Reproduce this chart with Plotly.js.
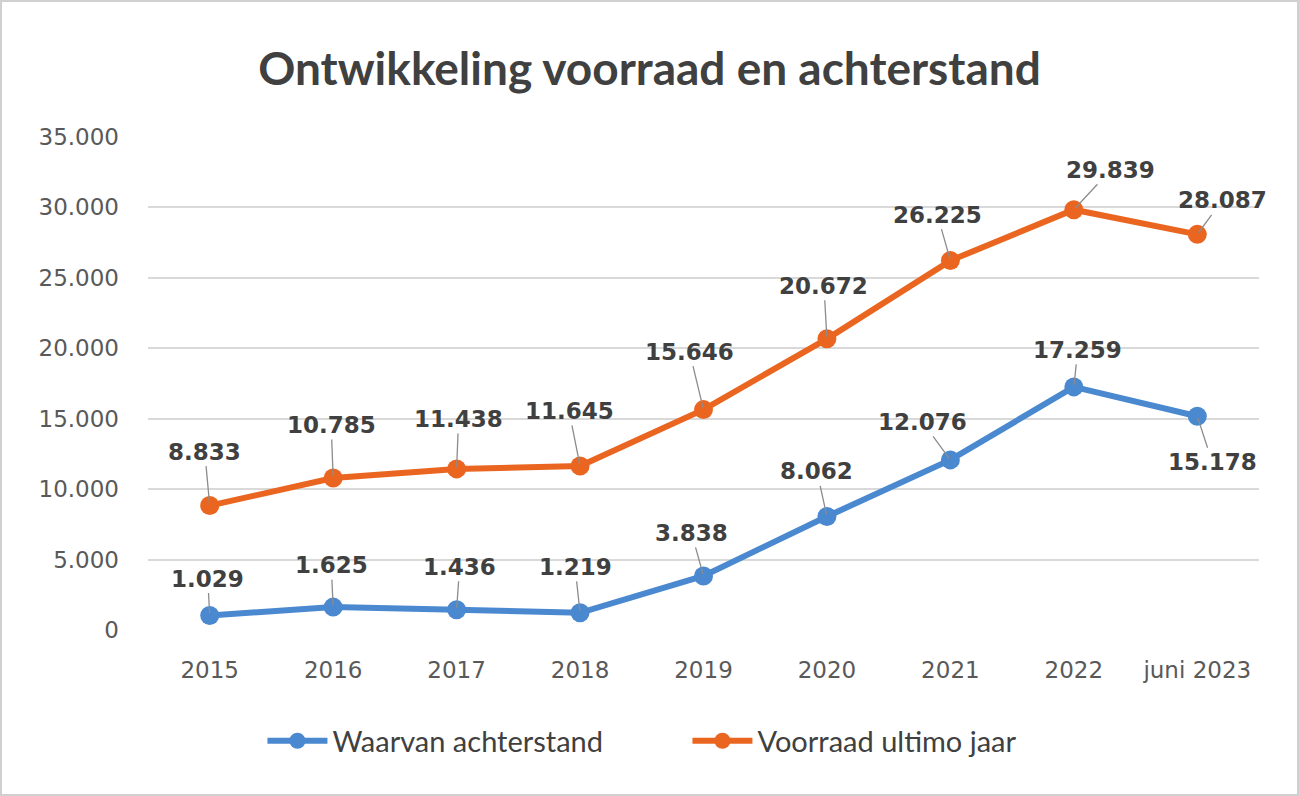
<!DOCTYPE html>
<html>
<head>
<meta charset="utf-8">
<script src="https://cdn.plot.ly/plotly-3.0.1.min.js"></script>
<style>
html,body{margin:0;padding:0;background:#fff;}
#chart{width:1299px;height:796px;box-sizing:border-box;border:2px solid #d0d0d0;}
</style>
</head>
<body>
<div id="chart"></div>
<script>
const categories = ["2015","2016","2017","2018","2019","2020","2021","2022","juni 2023"];
const achterstand = [1029,1625,1436,1219,3838,8062,12076,17259,15178];
const voorraad = [8833,10785,11438,11645,15646,20672,26225,29839,28087];
const yTicks = [0,5000,10000,15000,20000,25000,30000,35000];

// label offsets (pixels) for leader-line style data labels
const offV = [[-5,-54],[-2,-53],[2,-50],[-11,-55],[-14,-58],[-3,-53],[-13,-46],[37,-40],[25,-34]];
const offA = [[-2,-37],[-2,-42],[3,-43],[-5,-46],[-12,-43],[-10,-45],[-28,-38],[4,-37],[15,46]];

const blue = '#4A88D0';
const orange = '#EA6620';

function fmt(v){ return String(v).replace(/\B(?=(\d{3})+(?!\d))/g,'.'); }

const labelFont = {family:'DejaVu Sans', size:23, color:'#404040', weight:700};

const annotations = [];
categories.forEach((c,i)=>{
  annotations.push({x:i, y:voorraad[i], xref:'x', yref:'y', text:fmt(voorraad[i]),
    showarrow:true, arrowhead:0, arrowwidth:1.3, arrowcolor:'#8c8c8c', standoff:2,
    ax:offV[i][0], ay:offV[i][1], font:labelFont});
  annotations.push({x:i, y:achterstand[i], xref:'x', yref:'y', text:fmt(achterstand[i]),
    showarrow:true, arrowhead:0, arrowwidth:1.3, arrowcolor:'#8c8c8c', standoff:2,
    ax:offA[i][0], ay:offA[i][1], font:labelFont});
});

const traces = [
  {x:categories, y:achterstand, name:'Waarvan achterstand', type:'scatter', mode:'lines+markers',
   line:{color:blue, width:6}, marker:{color:blue, size:19}},
  {x:categories, y:voorraad, name:'Voorraad ultimo jaar', type:'scatter', mode:'lines+markers',
   line:{color:orange, width:6}, marker:{color:orange, size:19}}
];

const layout = {
  width:1295, height:792,
  margin:{l:146, r:38, t:135, b:164},
  paper_bgcolor:'#ffffff', plot_bgcolor:'#ffffff',
  separators:',.',
  title:{text:'Ontwikkeling voorraad en achterstand', x:0.5, xanchor:'center', y:0.915, yanchor:'middle',
         font:{family:'Lato', size:46, color:'#404040', weight:700}},
  xaxis:{type:'category', range:[-0.5,8.5], showgrid:false, zeroline:false, showline:false, ticks:'',
         tickfont:{family:'DejaVu Sans', size:23, color:'#595959'}, ticklabelstandoff:24},
  yaxis:{range:[0,35000], tickvals:yTicks, tickformat:',d', showgrid:true, gridcolor:'#d9d9d9', gridwidth:2,
         zeroline:false, showline:false, ticks:'',
         tickfont:{family:'DejaVu Sans', size:23, color:'#595959'}, ticklabelstandoff:28},
  legend:{orientation:'h', x:0.103, xanchor:'left', y:-0.225, yanchor:'middle',
          entrywidth:350, entrywidthmode:'pixels',
          font:{family:'Lato', size:29, color:'#404040'}, itemwidth:60},
  annotations:annotations,
  showlegend:true
};

Plotly.newPlot('chart', traces, layout, {displayModeBar:false, staticPlot:true});
</script>
</body>
</html>
